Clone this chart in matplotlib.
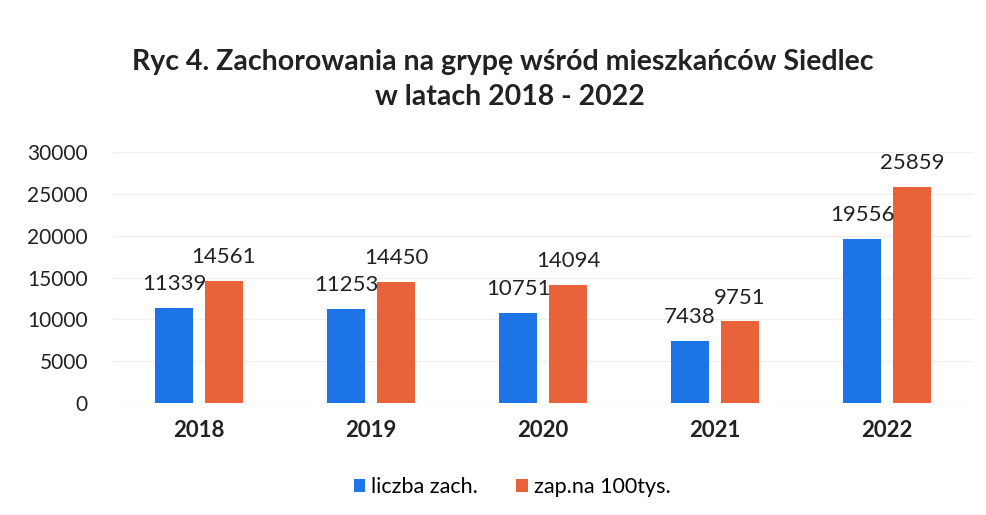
import matplotlib
matplotlib.use("Agg")
import matplotlib.pyplot as plt
import numpy as np

years = ["2018", "2019", "2020", "2021", "2022"]
liczba_zach = [11339, 11253, 10751, 7438, 19556]
zap_na_100tys = [14561, 14450, 14094, 9751, 25859]
yticks = [0, 5000, 10000, 15000, 20000, 25000, 30000]

plt.rcParams['font.family'] = ['Lato', 'DejaVu Sans']

W, H = 987, 515
fig = plt.figure(figsize=(W/100, H/100), dpi=100)
ax = fig.add_axes([113/W, 1-403/H, (973-113)/W, (403-152)/H])

x = np.arange(len(years))
bw = 0.22
off = 0.145
blue = "#1C74E6"
orange = "#E8623A"
b1 = ax.bar(x - off, liczba_zach, bw, color=blue, label="liczba zach.")
b2 = ax.bar(x + off, zap_na_100tys, bw, color=orange, label="zap.na 100tys.")

for rect, v in zip(b1, liczba_zach):
    ax.annotate(str(v), (rect.get_x() + rect.get_width()/2, v), xytext=(0, 10),
                textcoords="offset points", ha="center", va="bottom", fontsize=16, color="#222222")
for rect, v in zip(b2, zap_na_100tys):
    ax.annotate(str(v), (rect.get_x() + rect.get_width()/2, v), xytext=(0, 10),
                textcoords="offset points", ha="center", va="bottom", fontsize=16, color="#222222")

ax.set_xlim(-0.5, len(years) - 0.5)
ax.set_ylim(0, 30000)
ax.set_yticks(yticks)
ax.set_yticklabels([str(t) for t in yticks], fontsize=15, color="#222222")
ax.set_xticks(x)
ax.set_xticklabels(years, fontsize=16, fontweight="bold", color="#222222")
ax.tick_params(axis="both", length=0)
ax.tick_params(axis="x", pad=12)
ax.tick_params(axis="y", pad=18)
ax.grid(axis="y", color="#f0f0f0", linewidth=1)
ax.set_axisbelow(True)
for s in ax.spines.values():
    s.set_visible(False)

fig.text(503/W, 1-62/H, "Ryc 4. Zachorowania na grypę wśród mieszkańców Siedlec",
         ha="center", va="center", fontsize=20.5, fontweight="bold", color="#222222")
fig.text(510/W, 1-97/H, "w latach 2018 - 2022",
         ha="center", va="center", fontsize=20.5, fontweight="bold", color="#222222")

fig.legend(handles=[b1, b2], labels=["liczba zach.", "zap.na 100tys."], loc="center",
           bbox_to_anchor=(512/W, 1-487/H), ncol=2, frameon=False, fontsize=15.5,
           handlelength=0.55, handleheight=0.55, handletextpad=0.25, columnspacing=1.8)

fig.savefig("out.png", dpi=100)
